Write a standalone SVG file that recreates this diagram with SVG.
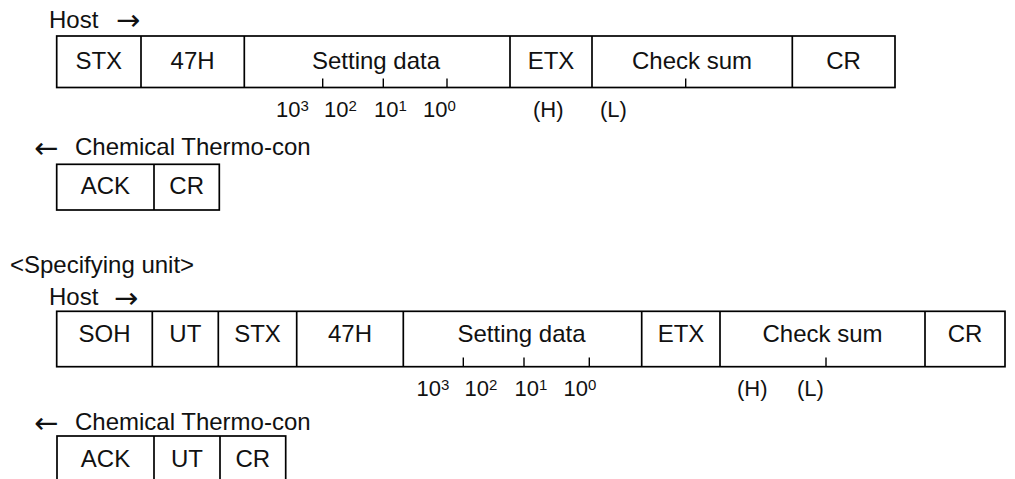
<svg xmlns="http://www.w3.org/2000/svg" width="1015" height="479" viewBox="0 0 1015 479">
<style>
text{font-family:"Liberation Sans",Arial,sans-serif;fill:#111}
.t{font-size:24px}
.a{font-family:"DejaVu Sans",sans-serif;font-size:29px}
.c{font-size:24px;text-anchor:middle}
.l{font-size:22px}
.s{font-size:15px}
.box{fill:none;stroke:#000;stroke-width:1.7}
.div{stroke:#000;stroke-width:1.7}
.tick{stroke:#000;stroke-width:1.4}
</style>
<rect width="1015" height="479" fill="#fff"/>

<g id="frame1-header">
<text class="t" x="49" y="27.5">Host</text>
<text class="a" x="116" y="30">→</text>
</g>
<g id="frame1">
<rect class="box" x="56.7" y="36" width="838.3" height="51.5"/>
<line class="div" x1="141" y1="36" x2="141" y2="87.5"/>
<line class="div" x1="244.3" y1="36" x2="244.3" y2="87.5"/>
<line class="div" x1="510" y1="36" x2="510" y2="87.5"/>
<line class="div" x1="592" y1="36" x2="592" y2="87.5"/>
<line class="div" x1="792.3" y1="36" x2="792.3" y2="87.5"/>
<line class="tick" x1="322.7" y1="78.5" x2="322.7" y2="87.5"/>
<line class="tick" x1="383.3" y1="78.5" x2="383.3" y2="87.5"/>
<line class="tick" x1="447" y1="78.5" x2="447" y2="87.5"/>
<line class="tick" x1="685.7" y1="78.5" x2="685.7" y2="87.5"/>
<text class="c" x="98.8" y="68.5">STX</text>
<text class="c" x="192.6" y="68.5">47H</text>
<text class="c" x="376" y="68.5">Setting data</text>
<text class="c" x="551" y="68.5">ETX</text>
<text class="c" x="692" y="68.5">Check sum</text>
<text class="c" x="843.6" y="68.5">CR</text>
</g>
<g id="frame1-labels">
<text class="l" x="276" y="116.7">10<tspan class="s" dy="-6">3</tspan></text>
<text class="l" x="324" y="116.7">10<tspan class="s" dy="-6">2</tspan></text>
<text class="l" x="374" y="116.7">10<tspan class="s" dy="-6">1</tspan></text>
<text class="l" x="423" y="116.7">10<tspan class="s" dy="-6">0</tspan></text>
<text class="l" x="533" y="116.7">(H)</text>
<text class="l" x="600" y="116.7">(L)</text>
</g>

<g id="reply1-header">
<text class="a" x="34" y="157.5">←</text>
<text class="t" x="75" y="155">Chemical Thermo-con</text>
</g>
<g id="reply1">
<rect class="box" x="56.7" y="164.3" width="162.6" height="45.7"/>
<line class="div" x1="154" y1="164.3" x2="154" y2="210"/>
<text class="c" x="105.4" y="194">ACK</text>
<text class="c" x="186.7" y="194">CR</text>
</g>

<g id="section2-title">
<text class="t" x="10" y="273.3">&lt;Specifying unit&gt;</text>
</g>
<g id="frame2-header">
<text class="t" x="49" y="305">Host</text>
<text class="a" x="114" y="307.5">→</text>
</g>
<g id="frame2">
<rect class="box" x="56.7" y="311.3" width="948.3" height="55.4"/>
<line class="div" x1="152.3" y1="311.3" x2="152.3" y2="366.7"/>
<line class="div" x1="218.3" y1="311.3" x2="218.3" y2="366.7"/>
<line class="div" x1="296.7" y1="311.3" x2="296.7" y2="366.7"/>
<line class="div" x1="403.3" y1="311.3" x2="403.3" y2="366.7"/>
<line class="div" x1="641.7" y1="311.3" x2="641.7" y2="366.7"/>
<line class="div" x1="720" y1="311.3" x2="720" y2="366.7"/>
<line class="div" x1="925" y1="311.3" x2="925" y2="366.7"/>
<line class="tick" x1="463.3" y1="357.5" x2="463.3" y2="366.7"/>
<line class="tick" x1="524" y1="357.5" x2="524" y2="366.7"/>
<line class="tick" x1="589.3" y1="357.5" x2="589.3" y2="366.7"/>
<line class="tick" x1="826" y1="357.5" x2="826" y2="366.7"/>
<text class="c" x="104.5" y="342">SOH</text>
<text class="c" x="185.3" y="342">UT</text>
<text class="c" x="257.5" y="342">STX</text>
<text class="c" x="350" y="342">47H</text>
<text class="c" x="521.5" y="342">Setting data</text>
<text class="c" x="681" y="342">ETX</text>
<text class="c" x="822.5" y="342">Check sum</text>
<text class="c" x="965" y="342">CR</text>
</g>
<g id="frame2-labels">
<text class="l" x="416.6" y="396">10<tspan class="s" dy="-6">3</tspan></text>
<text class="l" x="464.6" y="396">10<tspan class="s" dy="-6">2</tspan></text>
<text class="l" x="514.6" y="396">10<tspan class="s" dy="-6">1</tspan></text>
<text class="l" x="563.6" y="396">10<tspan class="s" dy="-6">0</tspan></text>
<text class="l" x="737" y="396">(H)</text>
<text class="l" x="797" y="396">(L)</text>
</g>

<g id="reply2-header">
<text class="a" x="34" y="432.5">←</text>
<text class="t" x="75" y="430">Chemical Thermo-con</text>
</g>
<g id="reply2">
<rect class="box" x="57" y="436" width="228.7" height="50"/>
<line class="div" x1="154" y1="436" x2="154" y2="486"/>
<line class="div" x1="220" y1="436" x2="220" y2="486"/>
<text class="c" x="105.5" y="466.7">ACK</text>
<text class="c" x="187" y="466.7">UT</text>
<text class="c" x="252.8" y="466.7">CR</text>
</g>
<g id="connectors"></g>
</svg>
